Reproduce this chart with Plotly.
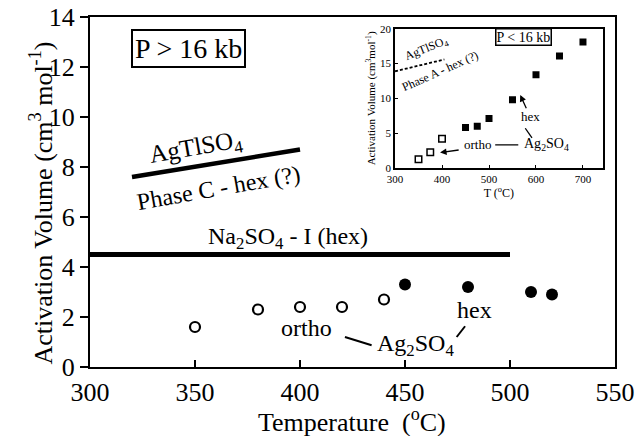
import plotly.graph_objects as go

FONT = "Liberation Serif, Times New Roman, serif"

# ---- main panel data (P > 16 kb) ----
ortho_T = [350, 380, 400, 420, 440]
ortho_V = [1.6, 2.3, 2.4, 2.4, 2.7]
hex_T = [450, 480, 510, 520]
hex_V = [3.3, 3.2, 3.0, 2.9]
agtl_T = [320, 400]
agtl_V = [7.6, 8.7]
na_T = [300, 500]
na_V = [4.5, 4.5]

main_xticks = [300, 350, 400, 450, 500, 550]
main_yticks = [0, 2, 4, 6, 8, 10, 12, 14]

# ---- inset data (P < 16 kb) ----
in_ortho_T = [350, 375, 400]
in_ortho_V = [1.25, 2.25, 4.2]
in_hex_T = [450, 475, 500, 550, 600, 650, 700]
in_hex_V = [5.8, 6.0, 7.1, 9.8, 13.4, 16.1, 18.1]
in_agtl_T = [300, 405]
in_agtl_V = [13.9, 15.6]

in_xticks = [300, 400, 500, 600, 700]
in_yticks = [0, 5, 10, 15, 20]

fig = go.Figure()

# main traces
fig.add_trace(go.Scatter(x=na_T, y=na_V, mode="lines",
                         line=dict(color="black", width=5), xaxis="x", yaxis="y"))
fig.add_trace(go.Scatter(x=agtl_T, y=agtl_V, mode="lines",
                         line=dict(color="black", width=4.5), xaxis="x", yaxis="y"))
fig.add_trace(go.Scatter(x=ortho_T, y=ortho_V, mode="markers",
                         marker=dict(symbol="circle-open", size=10, color="black",
                                     line=dict(width=2.2)), xaxis="x", yaxis="y"))
fig.add_trace(go.Scatter(x=hex_T, y=hex_V, mode="markers",
                         marker=dict(symbol="circle", size=12, color="black"),
                         xaxis="x", yaxis="y"))

# inset traces
fig.add_trace(go.Scatter(x=in_agtl_T, y=in_agtl_V, mode="lines",
                         line=dict(color="black", width=1.8, dash="3px,2px"),
                         xaxis="x2", yaxis="y2"))
fig.add_trace(go.Scatter(x=in_ortho_T, y=in_ortho_V, mode="markers",
                         marker=dict(symbol="square-open", size=6.5, color="black",
                                     line=dict(width=1.5)), xaxis="x2", yaxis="y2"))
fig.add_trace(go.Scatter(x=in_hex_T, y=in_hex_V, mode="markers",
                         marker=dict(symbol="square", size=7, color="black"),
                         xaxis="x2", yaxis="y2"))

ann = []
def A(text, x, y, size, ref="", angle=0, **kw):
    d = dict(text=text, x=x, y=y, xref="x" + ref, yref="y" + ref, showarrow=False,
             textangle=angle, font=dict(family=FONT, size=size, color="black"))
    d.update(kw)
    ann.append(d)

# axis titles (paper coordinates)
ann.append(dict(text="Temperature  (<sup>o</sup>C)", x=0.499, y=-0.152, xref="paper",
                yref="paper", showarrow=False, xanchor="center", yanchor="middle",
                font=dict(family=FONT, size=26, color="black")))
ann.append(dict(text="Activation Volume (cm<sup>3</sup> mol<sup>-1</sup>)", x=-0.092,
                y=0.469, xref="paper", yref="paper", showarrow=False, textangle=-90,
                xanchor="center", yanchor="middle",
                font=dict(family=FONT, size=26, color="black")))

# main annotations
A("P > 16 kb", 346.8, 12.73, 28, bordercolor="black", borderwidth=2, borderpad=2)
A("AgTlSO<sub>4</sub>", 350.5, 8.75, 25, angle=-10)
A("Phase C - hex (?)", 361, 7.15, 24, angle=-10)
A("Na<sub>2</sub>SO<sub>4</sub> - I (hex)", 394.3, 5.15, 24)
A("ortho", 402.9, 1.55, 24)
A("Ag<sub>2</sub>SO<sub>4</sub>", 455.2, 0.87, 24)
A("hex", 482.9, 2.27, 24)

# inset annotations
A("P < 16 kb", 572.9, 18.85, 14, ref="2", bordercolor="black", borderwidth=1.5, borderpad=0)
A("AgTlSO<sub>4</sub>", 367, 17.1, 12, ref="2", angle=-22)
A("Phase A - hex (?)", 396, 14.0, 12, ref="2", angle=-24)
A("hex", 587.8, 7.4, 13, ref="2")
A("Ag<sub>2</sub>SO<sub>4</sub>", 622, 3.3, 14, ref="2")
A("ortho", 474.8, 3.3, 13, ref="2")
# inset arrows
for (hx, hy, tx, ty) in [(566.5, 10.5, 580.8, 8.35), (395.9, 2.2, 438.6, 2.6)]:
    ann.append(dict(x=hx, y=hy, ax=tx, ay=ty, xref="x2", yref="y2", axref="x2", ayref="y2",
                    showarrow=True, arrowhead=2, arrowsize=1, arrowwidth=1.3,
                    arrowcolor="black", text=""))

shapes = [
    dict(type="line", xref="x", yref="y", x0=421.4, y0=1.2, x1=434.1, y1=0.87,
         line=dict(color="black", width=2)),
    dict(type="line", xref="x", yref="y", x0=478.6, y0=1.63, x1=474.6, y1=1.2,
         line=dict(color="black", width=2)),
    dict(type="line", xref="x2", yref="y2", x0=513.2, y0=3.3, x1=562.3, y1=3.3,
         line=dict(color="black", width=1.3)),
    dict(type="line", xref="x2", yref="y2", x0=577.2, y0=5.7, x1=591.5, y1=4.3,
         line=dict(color="black", width=1.3)),
]

axfont = dict(family=FONT, size=26, color="black")
infont = dict(family=FONT, size=11, color="black")

fig.update_layout(
    width=637, height=436,
    margin=dict(l=90, r=22, t=17, b=69, autoexpand=False),
    paper_bgcolor="white", plot_bgcolor="white",
    showlegend=False,
    annotations=ann, shapes=shapes,
    xaxis=dict(range=[300, 550], tickvals=main_xticks, ticks="inside", ticklen=7,
               tickwidth=1.5, tickcolor="black", showline=True, linewidth=2,
               linecolor="black", mirror=True, showgrid=False, zeroline=False,
               tickfont=axfont, automargin=False, ticklabeloverflow="allow",
               ticklabelstandoff=1),
    yaxis=dict(range=[0, 14], tickvals=main_yticks, ticks="outside", ticklen=8,
               tickwidth=1.5, tickcolor="black", showline=True, linewidth=2,
               linecolor="black", mirror=True, showgrid=False, zeroline=False,
               tickfont=axfont, automargin=False, ticklabeloverflow="allow"),
    xaxis2=dict(domain=[0.581, 0.9766], anchor="y2", range=[300, 742],
                tickvals=in_xticks, ticks="inside", ticklen=3, tickwidth=1,
                tickcolor="black", showline=True, linewidth=1.5, linecolor="black",
                mirror=True, showgrid=False, zeroline=False, tickfont=infont,
                automargin=False,
                title=dict(text="T (<sup>o</sup>C)", font=dict(family=FONT, size=12, color="black"),
                           standoff=0)),
    yaxis2=dict(domain=[0.569, 0.966], anchor="x2", range=[0, 20],
                tickvals=in_yticks, ticks="inside", ticklen=3, tickwidth=1,
                tickcolor="black", showline=True, linewidth=1.5, linecolor="black",
                mirror=True, showgrid=False, zeroline=False, tickfont=infont,
                automargin=False,
                title=dict(text="Activation Volume (cm<sup>3</sup>mol<sup>-1</sup>)",
                           font=dict(family=FONT, size=11, color="black"), standoff=2)),
)

# remove the default page margin so the 637x436 figure fills the window exactly
fig.write_html("out.html", config={"displayModeBar": False},
               post_script="document.body.style.margin='0';"
                           "document.body.style.overflow='hidden';")
